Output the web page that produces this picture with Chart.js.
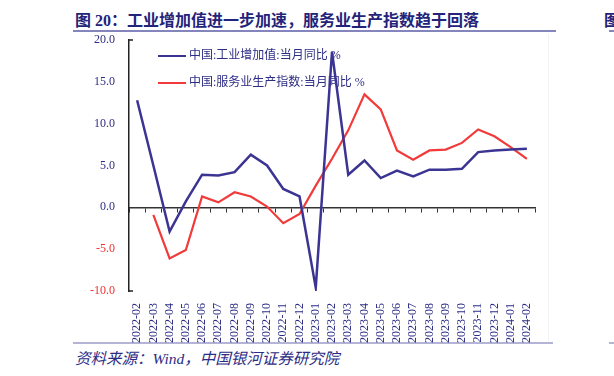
<!DOCTYPE html>
<html>
<head>
<meta charset="utf-8">
<script src="https://cdn.jsdelivr.net/npm/chart.js@4.4.1/dist/chart.umd.min.js"></script>
<style>
  body { margin: 0; background: #fff; }
  #wrap { position: relative; width: 614px; height: 376px; overflow: hidden; }
  #chart { position: absolute; left: 0; top: 0; }
  .title { position: absolute; left: 75px; top: 7px; font: bold 16px "Liberation Serif", "Noto Sans CJK SC"; color: #232379; white-space: nowrap; }
  .rule { position: absolute; height: 2px; background: #8585be; }
  .src { position: absolute; left: 75px; top: 346px; font: italic 15.5px "Liberation Serif", "Noto Sans CJK SC"; color: #2d2d86; white-space: nowrap; }
  .box { position: absolute; left: 73px; top: 34px; width: 475px; height: 307px; border-right: 1px solid #f3f3f6; }
</style>
</head>
<body>
<div id="wrap">
  <div class="box"></div>
  <div class="title">图 20：工业增加值进一步加速，服务业生产指数趋于回落</div>
  <div class="title" style="left:604px">图</div>
  <div class="rule" style="left:73px; top:30px; width:483px;"></div>
  <div class="rule" style="left:609px; top:30px; width:10px;"></div>
  <div class="rule" style="left:73px; top:342px; width:480px; background:#b4b4d6;"></div>
  <div class="rule" style="left:609px; top:342px; width:10px; background:#b4b4d6;"></div>
  <div class="src">资料来源：Wind，中国银河证券研究院</div>
  <canvas id="chart" width="614" height="376"></canvas>
</div>
<script>
const months = [
  "2022-02", "2022-03", "2022-04", "2022-05", "2022-06", "2022-07", "2022-08",
  "2022-09", "2022-10", "2022-11", "2022-12", "2023-01", "2023-02", "2023-03",
  "2023-04", "2023-05", "2023-06", "2023-07", "2023-08", "2023-09", "2023-10",
  "2023-11", "2023-12", "2024-01", "2024-02"
];
const industrial = [
  12.8, 5.0, -2.9, 0.7, 3.9, 3.8, 4.2, 6.3, 5.0, 2.2, 1.3, -9.6, 18.6, 3.9,
  5.6, 3.5, 4.4, 3.7, 4.5, 4.5, 4.6, 6.6, 6.8, 6.9, 7.0
];
const services = [
  null, -0.9, -6.1, -5.1, 1.3, 0.6, 1.8, 1.3, 0.1, -1.9, -0.8, 2.6, 5.8, 9.2,
  13.5, 11.7, 6.8, 5.7, 6.8, 6.9, 7.7, 9.3, 8.5, 7.2, 5.8
];
const seriesNames = ["中国:工业增加值:当月同比 %", "中国:服务业生产指数:当月同比 %"];

const NAVY = "#3b3492";
const RED = "#f23a3a";
const TEXT = "#2d2d86";
const SERIF = '"Liberation Serif", "Noto Sans CJK SC", serif';

// legend drawn under the lines (the spike crosses the "%")
const legendPlugin = {
  id: "innerLegend",
  beforeDatasetsDraw(chart) {
    const ctx = chart.ctx;
    const left = chart.chartArea.left + 29;
    chart.data.datasets.forEach((ds, i) => {
      const y = chart.chartArea.top + 16 + i * 27;
      ctx.save();
      ctx.strokeStyle = ds.borderColor;
      ctx.lineWidth = 2;
      ctx.beginPath();
      ctx.moveTo(left, y);
      ctx.lineTo(left + 28, y);
      ctx.stroke();
      ctx.fillStyle = TEXT;
      ctx.font = "12px " + SERIF;
      ctx.textBaseline = "middle";
      ctx.fillText(ds.label, left + 31, y);
      ctx.restore();
    });
  },
  afterDraw(chart) {
    // small end caps on the value axis
    const y = chart.scales.y;
    const ctx = chart.ctx;
    ctx.save();
    ctx.strokeStyle = "#222";
    ctx.lineWidth = 1.5;
    ctx.beginPath();
    ctx.moveTo(y.right, y.top);
    ctx.lineTo(y.right + 4, y.top);
    ctx.moveTo(y.right, y.bottom);
    ctx.lineTo(y.right + 4, y.bottom);
    ctx.stroke();
    ctx.restore();
  }
};

new Chart(document.getElementById("chart"), {
  type: "line",
  data: {
    labels: months,
    datasets: [
      {
        label: seriesNames[0],
        data: industrial,
        borderColor: NAVY,
        borderWidth: 2.5,
        pointRadius: 0,
        tension: 0,
        xAxisID: "x"
      },
      {
        label: seriesNames[1],
        data: services,
        borderColor: RED,
        borderWidth: 2.2,
        pointRadius: 0,
        tension: 0,
        xAxisID: "x"
      }
    ]
  },
  options: {
    responsive: false,
    animation: false,
    layout: { padding: { left: 73, right: 79, top: 40, bottom: 30 } },
    plugins: {
      legend: { display: false },
      tooltip: { enabled: false }
    },
    scales: {
      x: {
        type: "category",
        offset: true,
        grid: { display: false },
        border: { display: false },
        ticks: {
          autoSkip: false,
          minRotation: 90,
          maxRotation: 90,
          padding: 4,
          color: TEXT,
          font: { family: SERIF, size: 12 }
        },
        afterFit(scale) { scale.height = 55; }
      },
      zero: {
        type: "category",
        axis: "x",
        labels: months,
        position: { y: 0 },
        offset: true,
        grid: {
          offset: true,
          drawOnChartArea: false,
          drawTicks: true,
          tickLength: 4,
          color: "#333",
          lineWidth: 1
        },
        border: { display: true, color: "#333", width: 1.5 },
        ticks: { display: false }
      },
      y: {
        min: -10,
        max: 20,
        grid: { display: false, drawTicks: false },
        border: { display: true, color: "#222", width: 1.5 },
        ticks: {
          stepSize: 5,
          padding: 14,
          font: { family: SERIF, size: 12 },
          color: (c) => (c.tick.value < 0 ? "#f03030" : TEXT),
          callback: (v) => Number(v).toFixed(1)
        },
        afterFit(scale) { scale.width = 56; }
      }
    }
  },
  plugins: [legendPlugin]
});
</script>
</body>
</html>
